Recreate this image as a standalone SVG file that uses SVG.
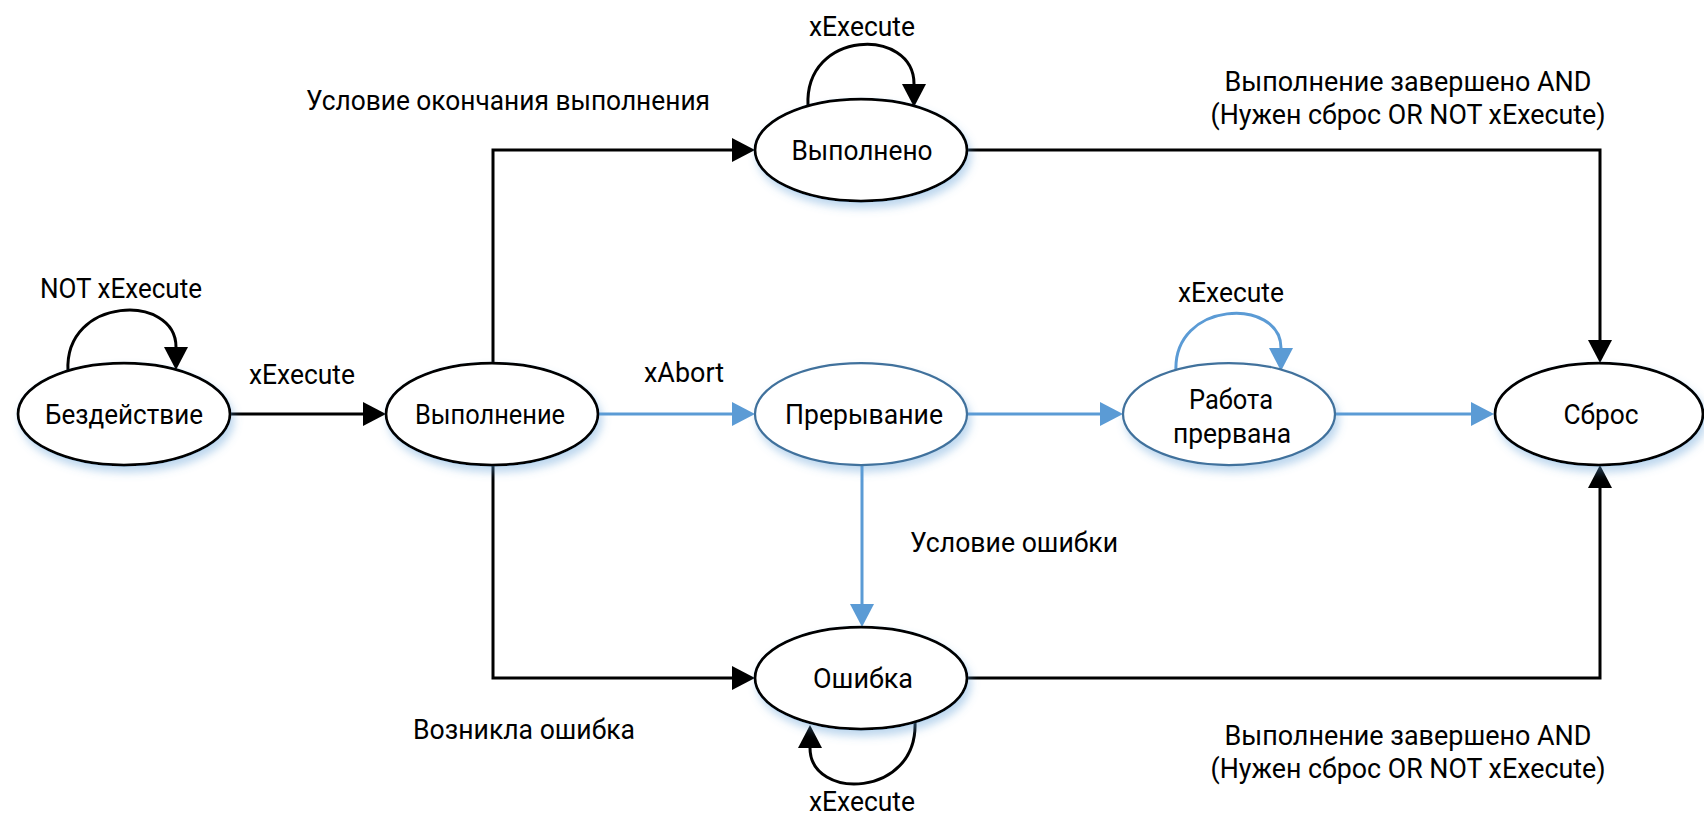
<svg xmlns="http://www.w3.org/2000/svg" width="1704" height="819" viewBox="0 0 1704 819">
  <style>
    text { font-family: Roboto, "Liberation Sans", sans-serif; font-size: 27px; fill: #000; text-anchor: middle; }
    .state { fill: #fff; stroke: #000; stroke-width: 2.75; filter: url(#glow); }
    .state.abort { stroke: #41719C; stroke-width: 2.25; }
    .edge { fill: none; stroke: #000; stroke-width: 3; marker-end: url(#arrow); }
    .edge.blue { stroke: #5B9BD5; marker-end: url(#arrowBlue); }
  </style>
  <defs>
    <filter id="glow" x="-20%" y="-30%" width="140%" height="170%">
      <feDropShadow dx="3" dy="6" stdDeviation="4" flood-color="#5B9BD5" flood-opacity="0.4"/>
    </filter>
    <marker id="arrow" viewBox="0 0 23 24" refX="0" refY="12" markerWidth="23" markerHeight="24" markerUnits="userSpaceOnUse" orient="auto">
      <path d="M0,0 L23,12 L0,24 Z" fill="#000"/>
    </marker>
    <marker id="arrowBlue" viewBox="0 0 23 24" refX="0" refY="12" markerWidth="23" markerHeight="24" markerUnits="userSpaceOnUse" orient="auto">
      <path d="M0,0 L23,12 L0,24 Z" fill="#5B9BD5"/>
    </marker>
  </defs>

  <!-- transitions -->
  <g id="connectors">
    <path class="edge" d="M230 414 H363"/>
    <path class="edge" d="M493 363 V150 H732"/>
    <path class="edge" d="M493 465 V678 H732"/>
    <path class="edge blue" d="M598 414 H732"/>
    <path class="edge blue" d="M967 414 H1100"/>
    <path class="edge blue" d="M1335 414 H1471"/>
    <path class="edge blue" d="M862 465 V604"/>
    <path class="edge" d="M967 150 H1600 V340"/>
    <path class="edge" d="M967 678 H1600 V488"/>
    <!-- self loops -->
    <path class="edge" d="M68 371 C64 296 176 293 176 347"/>
    <path class="edge" d="M808 106 C804 29 914 27 914 84"/>
    <path class="edge blue" d="M1176 372 C1172 300 1281 297 1281 348"/>
    <path class="edge" d="M915 722 C918 798 810 801 810 748"/>

    <text x="121" y="298" textLength="162" lengthAdjust="spacingAndGlyphs">NOT xExecute</text>
    <text x="302" y="384" textLength="106" lengthAdjust="spacingAndGlyphs">xExecute</text>
    <text x="508" y="110" textLength="404" lengthAdjust="spacingAndGlyphs">Условие окончания выполнения</text>
    <text x="862" y="36" textLength="106" lengthAdjust="spacingAndGlyphs">xExecute</text>
    <text x="1408" y="91" textLength="367" lengthAdjust="spacingAndGlyphs">Выполнение завершено AND</text>
    <text x="1408" y="124" textLength="395" lengthAdjust="spacingAndGlyphs">(Нужен сброс OR NOT xExecute)</text>
    <text x="684" y="382" textLength="80" lengthAdjust="spacingAndGlyphs">xAbort</text>
    <text x="1231" y="302" textLength="106" lengthAdjust="spacingAndGlyphs">xExecute</text>
    <text x="1014" y="552" textLength="208" lengthAdjust="spacingAndGlyphs">Условие ошибки</text>
    <text x="524" y="739" textLength="222" lengthAdjust="spacingAndGlyphs">Возникла ошибка</text>
    <text x="1408" y="745" textLength="367" lengthAdjust="spacingAndGlyphs">Выполнение завершено AND</text>
    <text x="1408" y="778" textLength="395" lengthAdjust="spacingAndGlyphs">(Нужен сброс OR NOT xExecute)</text>
    <text x="862" y="811" textLength="106" lengthAdjust="spacingAndGlyphs">xExecute</text>
  </g>

  <g id="idle">
    <ellipse class="state" cx="124" cy="414" rx="106" ry="51"/>
    <text x="124" y="424" textLength="158" lengthAdjust="spacingAndGlyphs">Бездействие</text>
  </g>
  <g id="executing">
    <ellipse class="state" cx="492" cy="414" rx="106" ry="51"/>
    <text x="490" y="424" textLength="150" lengthAdjust="spacingAndGlyphs">Выполнение</text>
  </g>
  <g id="done">
    <ellipse class="state" cx="861" cy="150" rx="106" ry="51"/>
    <text x="862" y="160" textLength="141" lengthAdjust="spacingAndGlyphs">Выполнено</text>
  </g>
  <g id="aborting">
    <ellipse class="state abort" cx="861" cy="414" rx="106" ry="51"/>
    <text x="864" y="424" textLength="158" lengthAdjust="spacingAndGlyphs">Прерывание</text>
  </g>
  <g id="aborted">
    <ellipse class="state abort" cx="1229" cy="414" rx="106" ry="51"/>
    <text x="1231" y="409" textLength="84" lengthAdjust="spacingAndGlyphs">Работа</text>
    <text x="1232" y="443" textLength="118" lengthAdjust="spacingAndGlyphs">прервана</text>
  </g>
  <g id="reset">
    <ellipse class="state" cx="1599" cy="414" rx="104" ry="51"/>
    <text x="1601" y="424" textLength="75" lengthAdjust="spacingAndGlyphs">Сброс</text>
  </g>
  <g id="error">
    <ellipse class="state" cx="861" cy="678" rx="106" ry="51"/>
    <text x="863" y="688" textLength="100" lengthAdjust="spacingAndGlyphs">Ошибка</text>
  </g>
</svg>
